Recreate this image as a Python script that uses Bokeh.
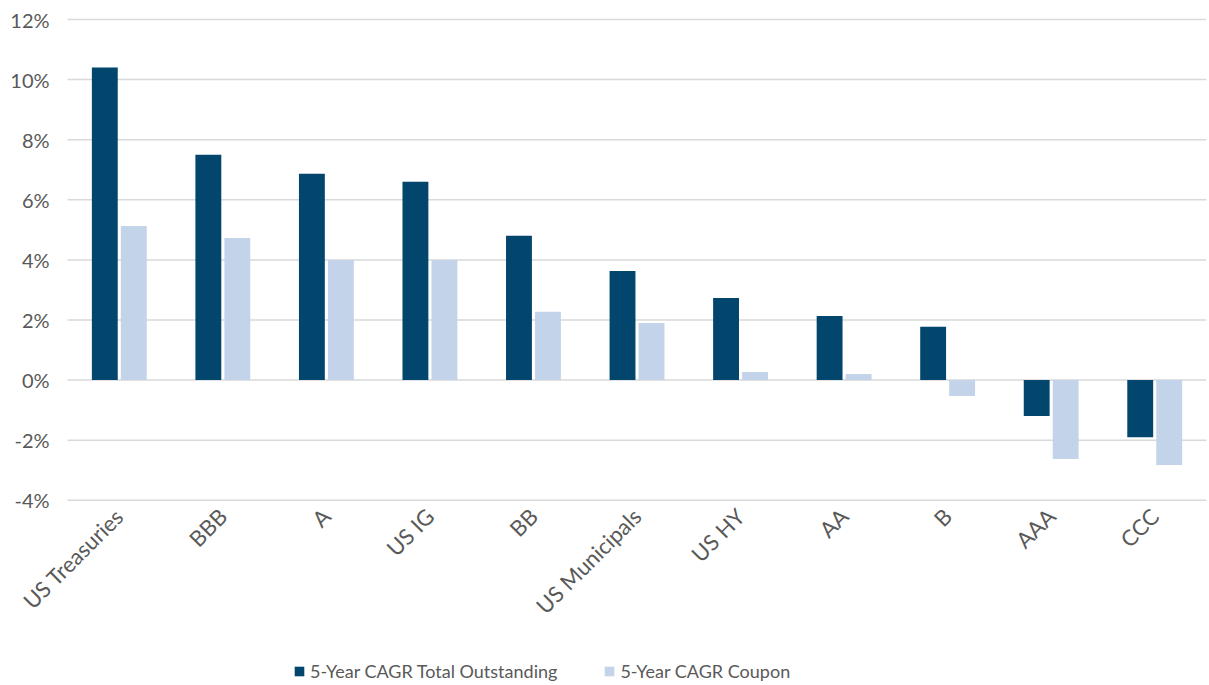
from bokeh.plotting import figure
from bokeh.models import (ColumnDataSource, Legend, LegendItem, PrintfTickFormatter,
                          FixedTicker, Range1d, LinearAxis)
from bokeh.transform import dodge
from bokeh.embed import file_html
from bokeh.resources import INLINE
import math

categories = ["US Treasuries", "BBB", "A", "US IG", "BB", "US Municipals",
              "US HY", "AA", "B", "AAA", "CCC"]
total_outstanding = [10.4, 7.5, 6.87, 6.6, 4.8, 3.63, 2.73, 2.13, 1.77, -1.2, -1.9]
coupon = [5.13, 4.73, 4.0, 4.0, 2.27, 1.9, 0.27, 0.2, -0.53, -2.63, -2.83]
y_ticks = [-4, -2, 0, 2, 4, 6, 8, 10, 12]
Y_MIN, Y_MAX = -4, 12

DARK = "#03466d"
LIGHT = "#c2d3ea"
GRID = "#d9d9d9"
GRAY = "#595959"
FONT = "Lato"

n = len(categories)
centers = [i + 0.5 for i in range(n)]          # slot centres on a numeric category scale
src = ColumnDataSource(dict(xc=centers, cat=categories, tot=total_outstanding, cpn=coupon))
grid_src = ColumnDataSource(dict(y=y_ticks, x0=[0] * len(y_ticks), x1=[n] * len(y_ticks)))

# the frame reaches left of the first slot (room for the % labels), a little above 12%
# and below -4% (room for the rotated category labels and the legend)
p = figure(x_range=Range1d(-66 / 103.5, n),
           y_range=Range1d(Y_MIN - 182 / 30, Y_MAX + 14 / 30),
           frame_width=1205, frame_height=677,
           x_axis_location=None, y_axis_location=None,
           min_border_left=1, min_border_top=5, min_border_right=1, min_border_bottom=1,
           output_backend="svg", toolbar_location=None, outline_line_color=None)
p.grid.visible = False

# horizontal gridlines spanning the category slots
p.segment(x0="x0", x1="x1", y0="y", y1="y", source=grid_src,
          line_color=GRID, line_width=1.5)

r1 = p.vbar(x=dodge("xc", -0.14), top="tot", bottom=0, width=0.25,
            source=src, color=DARK, line_color=None)
r2 = p.vbar(x=dodge("xc", 0.14), top="cpn", bottom=0, width=0.25,
            source=src, color=LIGHT, line_color=None)

yaxis = LinearAxis(fixed_location=0, ticker=FixedTicker(ticks=y_ticks),
                   formatter=PrintfTickFormatter(format="%d%%"))
xaxis = LinearAxis(fixed_location=Y_MIN, ticker=FixedTicker(ticks=centers),
                   major_label_overrides={c: name for c, name in zip(centers, categories)})
p.add_layout(yaxis, "left")
p.add_layout(xaxis, "below")

for ax in (xaxis, yaxis):
    ax.axis_line_color = None
    ax.major_tick_line_color = None
    ax.minor_tick_line_color = None
    ax.major_label_text_color = GRAY
    ax.major_label_text_font = FONT
yaxis.major_label_text_font_size = "20px"
xaxis.major_label_text_font_size = "22px"
yaxis.major_label_standoff = 12
xaxis.major_label_orientation = math.pi / 4
xaxis.major_label_standoff = 6

legend = Legend(items=[LegendItem(label="5-Year CAGR Total Outstanding", renderers=[r1]),
                       LegendItem(label="5-Year CAGR Coupon", renderers=[r2])],
                orientation="horizontal", location=(292, 0),
                label_text_font=FONT, label_text_font_size="18px", label_text_color=GRAY,
                glyph_width=12, glyph_height=12, label_standoff=5, spacing=46,
                border_line_color=None, background_fill_alpha=0, margin=0, padding=3)
p.add_layout(legend, "center")

open("out.html", "w").write(file_html(p, INLINE))
